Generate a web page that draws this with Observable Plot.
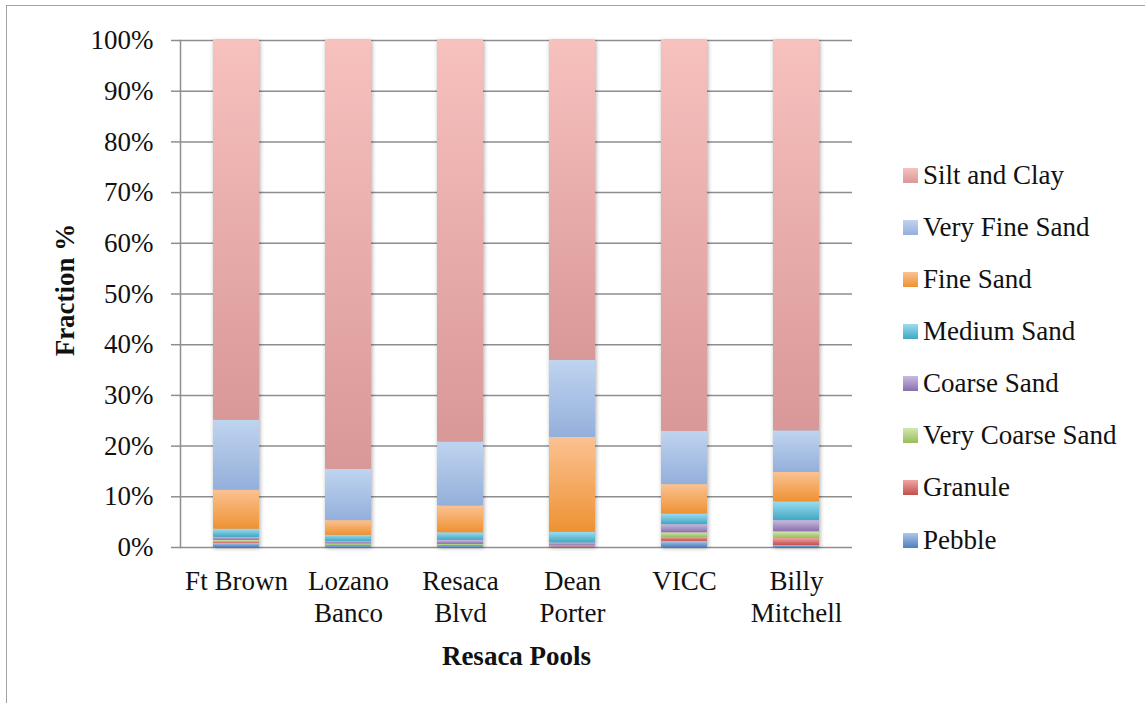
<!DOCTYPE html>
<html>
<head>
<meta charset="utf-8">
<script src="https://cdn.jsdelivr.net/npm/d3@7"></script>
<script src="https://cdn.jsdelivr.net/npm/@observablehq/plot@0.6"></script>
<style>
  html, body { margin: 0; padding: 0; background: #fff; overflow: hidden; }
  #wrap { position: relative; width: 1145px; height: 703px; overflow: hidden; font-family: "Liberation Serif", serif; }
  #border { position: absolute; left: 6px; top: 5px; width: 1300px; height: 900px; border: 1.5px solid #a3a3a3; box-sizing: border-box; }
  #chart { position: absolute; left: 0; top: 0; }
  #legend { position: absolute; left: 903px; top: 0; }
  .item { position: absolute; left: 0; display: flex; align-items: center; white-space: nowrap; font-size: 27px; color: #111; }
  .item svg { margin-right: 5px; }
  #chart svg g[aria-label="bar"] { filter: drop-shadow(1px 1.5px 2px rgba(0,0,0,0.35)); }
</style>
</head>
<body>
<div id="wrap">
  <div id="border"></div>
  <svg width="0" height="0" style="position:absolute">
    <defs id="grads"></defs>
  </svg>
  <div id="chart"></div>
  <div id="legend"></div>
</div>
<script>
// Sediment fractions (%) for each resaca pool, bottom of the stack first
const pools = ["Ft Brown", "Lozano Banco", "Resaca Blvd", "Dean Porter", "VICC", "Billy Mitchell"];
const poolLabels = ["Ft Brown", "Lozano\nBanco", "Resaca\nBlvd", "Dean\nPorter", "VICC", "Billy\nMitchell"];
const fractions = ["Pebble", "Granule", "Very Coarse Sand", "Coarse Sand", "Medium Sand", "Fine Sand", "Very Fine Sand", "Silt and Clay"];

const pebble         = [0.8, 0.3, 0.3, 0.1, 1.2, 0.4];
const granule        = [0.2, 0.1, 0.1, 0.1, 0.8, 1.4];
const veryCoarseSand = [0.4, 0.3, 0.2, 0.1, 0.9, 1.3];
const coarseSand     = [0.6, 0.5, 0.8, 0.6, 1.6, 2.2];
const mediumSand     = [1.6, 1.2, 1.5, 2.1, 2.1, 3.7];
const fineSand       = [7.7, 2.9, 5.3, 18.7, 5.8, 5.8];
const veryFineSand   = [13.8, 10.1, 12.6, 15.2, 10.5, 8.2];
const siltAndClay    = [74.9, 84.6, 79.2, 63.1, 77.1, 77.0];

const yTicks = [0, 10, 20, 30, 40, 50, 60, 70, 80, 90, 100];

// gradient colours per fraction (top, bottom)
const gradientStops = [
  ["#adc6ea", "#4f81bd"],
  ["#f0a6a3", "#c0504d"],
  ["#d3e7b0", "#98bd5b"],
  ["#c8bbdf", "#8a6fae"],
  ["#9bdcf0", "#41a7c3"],
  ["#fbc293", "#ee9232"],
  ["#bfd4ef", "#94afdb"],
  ["#f7c1be", "#d89897"]
];

const series = [pebble, granule, veryCoarseSand, coarseSand, mediumSand, fineSand, veryFineSand, siltAndClay];
const rows = [];
pools.forEach((pool, j) => {
  fractions.forEach((f, i) => rows.push({pool, fraction: f, value: series[i][j]}));
});

// vertical gradient definitions
const defs = document.getElementById("grads");
gradientStops.forEach(([top, bottom], i) => {
  const ns = "http://www.w3.org/2000/svg";
  const g = document.createElementNS(ns, "linearGradient");
  g.setAttribute("id", "grad-" + i);
  g.setAttribute("x1", "0"); g.setAttribute("y1", "0");
  g.setAttribute("x2", "0"); g.setAttribute("y2", "1");
  [[0, top], [1, bottom]].forEach(([o, c]) => {
    const s = document.createElementNS(ns, "stop");
    s.setAttribute("offset", o);
    s.setAttribute("stop-color", c);
    g.appendChild(s);
  });
  defs.appendChild(g);
});
const fills = fractions.map((_, i) => `url(#grad-${i})`);

const gridColor = "#8e8e8e";
const labelOf = new Map(pools.map((p, i) => [p, poolLabels[i]]));

const chart = Plot.plot({
  width: 880,
  height: 703,
  marginLeft: 180,
  marginRight: 28,
  marginTop: 40,
  marginBottom: 156,
  style: {fontFamily: "Liberation Serif, serif", fontSize: "27px", color: "#111", background: "transparent"},
  x: {domain: pools, paddingInner: 0.59, paddingOuter: 0.295, axis: null},
  y: {domain: [0, 100], axis: null},
  color: {domain: fractions, range: fills},
  marks: [
    Plot.ruleY(yTicks, {stroke: gridColor, strokeWidth: 1.5}),
    Plot.axisY(yTicks, {tickSize: 9, tickPadding: 18, stroke: gridColor, strokeWidth: 1.5, tickFormat: d => d + "%", fontSize: 27, fill: "#111", label: null}),
    Plot.frame({anchor: "left", stroke: gridColor, strokeWidth: 1.5}),
    Plot.barY(rows, {x: "pool", y: "value", fill: "fraction", order: fractions}),
    Plot.axisX({tickSize: 0, tickPadding: 19, tickFormat: d => labelOf.get(d), fontSize: 27, fill: "#111", lineHeight: 1.2, label: null}),
    Plot.text(["Fraction %"], {frameAnchor: "left", dx: -115, dy: -4, rotate: -90, textAnchor: "middle", fontWeight: "bold", fontSize: 27, fill: "#111"}),
    Plot.text(["Resaca Pools"], {frameAnchor: "bottom", dy: 117, fontWeight: "bold", fontSize: 27, fill: "#111"})
  ]
});
document.getElementById("chart").appendChild(chart);

// legend, top entry is the top of the stack
const legend = document.getElementById("legend");
fractions.slice().reverse().forEach((f, k) => {
  const i = fractions.length - 1 - k;
  const item = document.createElement("div");
  item.className = "item";
  item.style.top = (175 + k * 52.15 - 18) + "px";
  item.style.height = "36px";
  item.innerHTML = `<svg width="15" height="15"><rect width="15" height="15" fill="${fills[i]}"/></svg><span>${f}</span>`;
  legend.appendChild(item);
});
</script>
</body>
</html>
